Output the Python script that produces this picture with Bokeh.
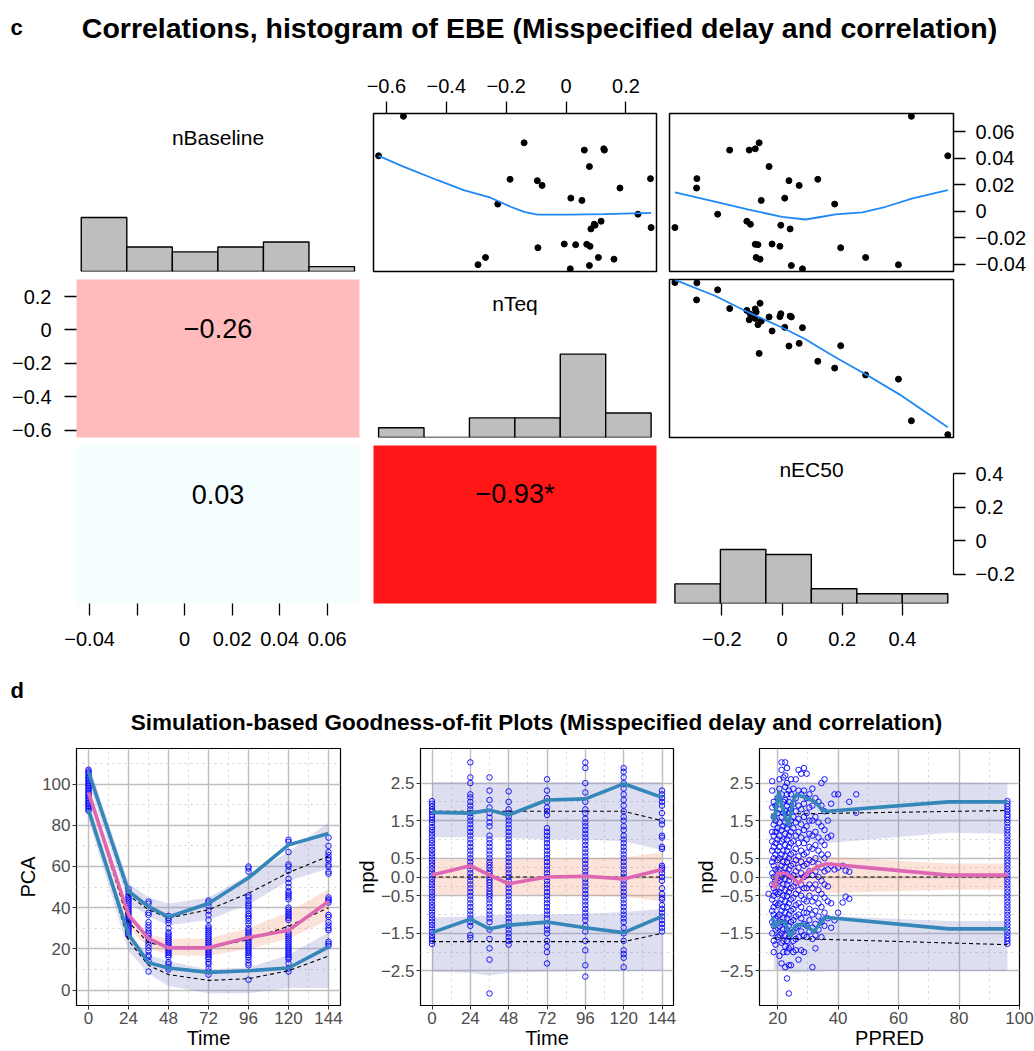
import numpy as np
from bokeh.plotting import figure
from bokeh.layouts import column, row
from bokeh.models import Range1d, FixedTicker, CustomJSTickFormatter, Label
from bokeh.embed import file_html
from bokeh.resources import INLINE

FONT = "Liberation Sans"

# ---------------- Section c: EBE of 32 subjects ----------------
nBaseline = [0.0715, 0.0417, 0.0515, 0.0460, 0.0470, 0.0460, 0.0336, 0.0240, 0.0230, 0.0194,
             0.0245, 0.0174, 0.0098, 0.0081, 0.0053, -0.0023, -0.0124, -0.0076, -0.0099, -0.0106,
             -0.0134, -0.0276, -0.0248, -0.0253, -0.0250, -0.0265, -0.0349, -0.0349, -0.0362, -0.0404,
             -0.0435, -0.0410]
nTeq = [-0.543, -0.626, -0.140, 0.061, 0.126, 0.128, 0.078, -0.187, -0.096, -0.080,
        0.282, 0.180, 0.016, 0.053, -0.228, 0.240, 0.284, 0.117, 0.094, 0.097,
        0.083, -0.094, -0.006, 0.032, 0.069, 0.080, -0.269, 0.108, 0.160, -0.294,
        0.014, 0.078]
nEC50 = [0.430, 0.551, -0.076, -0.109, -0.089, -0.174, -0.043, 0.119, 0.023, 0.057,
         -0.283, -0.284, 0.009, -0.069, 0.175, -0.214, -0.356, -0.117, -0.105, -0.004,
         0.027, 0.195, -0.033, -0.080, -0.089, -0.007, 0.278, -0.086, -0.073, 0.387,
         0.068, 0.031]

var_names = ["nBaseline", "nTeq", "nEC50"]
var_data = {"nBaseline": nBaseline, "nTeq": nTeq, "nEC50": nEC50}
var_range = {"nBaseline": (-0.0455, 0.0736), "nTeq": (-0.643, 0.302), "nEC50": (-0.374, 0.570)}

# correlation cells (row, col) -> label, fill
corr_cells = {(1, 0): ("\u22120.26", "#FFBBBB"),
              (2, 0): ("0.03", "#F4FEFE"),
              (2, 1): ("\u22120.93*", "#FF1616")}

# loess smoothers
smooth = {
    (0, 1): ([-0.626, -0.543, -0.431, -0.342, -0.252, -0.185, -0.140, -0.096, 0.016, 0.128, 0.284],
             [0.0417, 0.0336, 0.0235, 0.0159, 0.0101, 0.0033, -0.0005, -0.0026, -0.0026, -0.0023, -0.0013]),
    (0, 2): ([-0.356, -0.223, -0.111, 0.000, 0.078, 0.123, 0.178, 0.267, 0.345, 0.434, 0.551],
             [0.0141, 0.0071, 0.0012, -0.0043, -0.0063, -0.0046, -0.0025, -0.0010, 0.0033, 0.0096, 0.0159]),
    (1, 2): ([-0.356, -0.223, -0.111, 0.000, 0.078, 0.123, 0.189, 0.278, 0.390, 0.551],
             [0.300, 0.205, 0.105, 0.015, -0.055, -0.105, -0.175, -0.265, -0.385, -0.581]),
}

tick_vals = {"nBaseline": [-0.04, -0.02, 0.0, 0.02, 0.04, 0.06],
             "nTeq": [-0.6, -0.4, -0.2, 0.0, 0.2],
             "nEC50": [-0.2, 0.0, 0.2, 0.4]}

# ---------------- Section d: VPC data ----------------
times = [0, 24, 36, 48, 72, 96, 120, 144]
pca_obs = {
    0: [107, 106.2, 105.5, 104.6, 103.8, 103, 102.2, 101.4, 100.6, 99.8, 99, 98.2, 97.4, 96.6, 95.8, 95,
        94.2, 93.4, 92.6, 91.8, 91, 90.2, 89.4, 88.6, 87.8, 87],
    24: [49, 47.5, 46, 45, 44, 43, 42, 41, 40, 39, 38, 37, 36, 35, 34, 33, 32, 31, 30, 29, 28, 27, 26.5],
    36: [43, 42, 37.5, 36.5, 33, 31.5, 30, 28.5, 27.5, 26.5, 25, 23.5, 22, 20.5, 19, 17, 16, 14, 9],
    48: [36, 35, 34, 32.5, 30, 28, 27, 26, 25, 24, 23, 22, 21, 20, 19, 18, 17, 16, 13.5, 12.5, 11, 10],
    72: [43.5, 42.5, 41, 38.5, 36.5, 34, 31, 30, 29, 28, 27, 26, 25, 24, 23, 22, 21, 20, 19, 18, 17, 16, 15,
         13.5, 12.5, 10.5, 9, 7.5],
    96: [60, 59, 57.5, 46, 45, 43.5, 42, 41, 40, 38.5, 37, 36, 35, 33.5, 32, 30, 29, 28, 27, 26, 25, 24, 23,
         22, 21, 20, 19, 18, 17, 16, 14.5, 13, 12, 5],
    120: [73, 72, 67, 61, 60, 58, 54, 52, 50, 48, 47, 46, 45, 44, 40, 39, 38, 37, 36, 35, 34, 30, 28, 27, 26,
          25, 24, 23, 22, 21, 20, 19, 18, 17, 16, 15, 13, 10.5, 9],
    144: [74, 70, 67, 65.5, 64, 63, 61, 60, 57.5, 56.5, 45, 44, 43.5, 42.5, 36.5, 35.5, 33, 31.5, 30, 29,
          23.5, 22.5, 21.5],
}
pca_obs_hi = [106, 48, 40.5, 35.5, 42, 54.5, 70.5, 76]
pca_obs_med = [96, 36.5, 25, 20.5, 20.5, 25.5, 29, 43]
pca_obs_lo = [87.5, 27, 13.3, 10.7, 8.6, 9.4, 10.7, 21]
pca_pred_hi = [105, 46, 39, 35, 39, 47, 57, 65]
pca_pred_med = [96, 33, 23, 21, 20.5, 24.5, 31, 40]
pca_pred_lo = [88, 24, 12, 7.5, 4.7, 5.5, 9.4, 16.5]
pca_pi_hi = ([101, 42, 36, 31.5, 34, 41.5, 53, 59], [110, 52, 45, 42, 45, 56, 67, 81.5])
pca_pi_med = ([92, 30, 20.5, 17, 16.5, 20, 25, 34], [100, 38, 27, 25, 25, 30, 38, 49])
pca_pi_lo = ([83, 19, 8, 2, -1.5, -1.5, 1, 1], [92, 28, 17, 14, 10, 11, 17, 28])

npd_obs = {
    0: [2.02, 1.95, 1.88, 1.8, 1.74, 1.66, 1.6, 1.52, 1.44, 1.33, 1.25, 1.16, 1.08, 0.98, 0.9, 0.81, 0.72,
        0.63, 0.55, 0.46, 0.38, 0.3, 0.21, 0.12, 0.04, -0.05, -0.14, -0.22, -0.31, -0.4, -0.49, -0.57, -0.66,
        -0.75, -0.83, -0.92, -1.01, -1.1, -1.19, -1.28, -1.37, -1.46, -1.55, -1.63, -1.7, -1.78],
    24: [3.05, 2.65, 2.5, 2.2, 2.12, 2.0, 1.9, 1.8, 1.7, 1.6, 1.5, 1.4, 1.3, 1.2, 1.1, 1.0, 0.9, 0.8, 0.7,
         0.6, 0.5, 0.4, 0.3, 0.2, 0.1, 0.0, -0.1, -0.2, -0.3, -0.4, -0.5, -0.6, -0.7, -0.8, -0.9, -1.0, -1.1,
         -1.2, -1.3, -1.55, -1.62],
    36: [2.65, 2.3, 2.05, 1.85, 1.7, 1.58, 1.45, 1.35, 1.1, 1.0, 0.9, 0.8, 0.7, 0.6, 0.5, 0.4, 0.32, 0.24,
         0.15, 0.08, 0.0, -0.08, -0.15, -0.22, -0.3, -0.38, -0.45, -0.52, -0.6, -0.7, -0.8, -0.9, -1.0, -1.1,
         -1.2, -1.4, -1.65, -1.9, -2.2, -3.1],
    48: [2.28, 2.0, 1.8, 1.7, 1.6, 1.5, 1.4, 1.3, 1.2, 1.1, 1.0, 0.9, 0.8, 0.7, 0.6, 0.5, 0.4, 0.3, 0.2,
         0.1, 0.0, -0.1, -0.2, -0.3, -0.4, -0.5, -0.6, -0.7, -0.8, -0.9, -1.0, -1.1, -1.2, -1.3, -1.4, -1.5,
         -1.6, -1.7, -1.8],
    72: [2.6, 2.3, 2.1, 2.0, 1.85, 1.75, 1.65, 1.3, 1.2, 1.1, 1.0, 0.9, 0.8, 0.7, 0.6, 0.5, 0.4, 0.3, 0.2,
         0.1, 0.0, -0.1, -0.2, -0.3, -0.4, -0.5, -0.6, -0.7, -0.8, -0.9, -1.0, -1.1, -1.3, -1.4, -1.5, -1.7,
         -1.85, -2.0, -2.3],
    96: [3.05, 2.9, 2.5, 2.25, 2.0, 1.8, 1.7, 1.55, 1.45, 1.35, 1.25, 1.15, 1.05, 0.95, 0.85, 0.75, 0.65,
         0.55, 0.45, 0.35, 0.25, 0.15, 0.05, -0.05, -0.15, -0.25, -0.35, -0.45, -0.55, -0.65, -0.75, -0.85,
         -0.95, -1.05, -1.15, -1.3, -1.45, -1.7, -1.95, -2.35, -2.65],
    120: [2.9, 2.8, 2.65, 2.5, 2.35, 2.2, 2.05, 1.9, 1.75, 1.6, 1.5, 1.35, 1.25, 1.1, 1.0, 0.9, 0.8, 0.7,
          0.6, 0.5, 0.4, 0.3, 0.2, 0.1, 0.0, -0.1, -0.2, -0.3, -0.4, -0.5, -0.6, -0.7, -0.8, -0.9, -1.0,
          -1.1, -1.2, -1.35, -1.5, -1.7, -1.95, -2.05, -2.15, -2.4],
    144: [2.3, 2.2, 2.1, 2.0, 1.9, 1.7, 1.5, 1.4, 1.1, 1.05, 0.8, 0.75, 0.3, 0.25, 0.2, 0.1, 0.0, -0.1,
          -0.3, -0.45, -0.55, -0.6, -0.75, -0.85, -0.95, -1.05, -1.15, -1.25, -1.35, -1.45],
}
npd_obs_hi = [1.72, 1.70, 1.78, 1.65, 2.05, 2.08, 2.48, 2.12]
npd_obs_med = [0.05, 0.30, 0.05, -0.18, 0.0, 0.02, -0.05, 0.20]
npd_obs_lo = [-1.48, -1.12, -1.38, -1.28, -1.20, -1.35, -1.48, -1.05]
npd_pred_hi = [1.75, 1.75, 1.75, 1.75, 1.75, 1.75, 1.75, 1.5]
npd_pred_med = [0.0, 0.0, 0.0, 0.0, 0.0, 0.0, 0.0, 0.0]
npd_pred_lo = [-1.72, -1.72, -1.72, -1.72, -1.72, -1.72, -1.72, -1.5]
npd_pi_hi = ([1.06, 1.06, 1.05, 1.04, 1.0, 1.0, 0.95, 0.72], [2.53, 2.52, 2.52, 2.52, 2.52, 2.52, 2.52, 2.52])
npd_pi_med = ([-0.47, -0.47, -0.47, -0.47, -0.48, -0.5, -0.52, -0.65], [0.46, 0.47, 0.47, 0.47, 0.48, 0.5, 0.52, 0.66])
npd_pi_lo = ([-2.53, -2.55, -2.62, -2.55, -2.52, -2.5, -2.5, -2.5], [-1.08, -1.05, -1.02, -1.0, -1.0, -0.98, -0.93, -0.85])

# npd vs PPRED: observations grouped by population prediction
ppred_groups = [
    (17.0, [-0.45]),
    (18.2, [2.55, 2.3, 1.85, 1.2, 0.95, 0.7, 0.4, 0.1, -0.2, -0.6, -0.9, -1.2, -1.5]),
    (18.7, [2.0, 1.6, 1.4, 1.1, 0.8, 0.5, 0.3, 0.0, -0.3, -0.5, -0.8, -1.0, -1.3, -1.7, -2.0]),
    (19.3, [1.9, 1.5, 1.2, 0.9, 0.6, 0.2, -0.1, -0.4, -0.7, -1.1, -1.4, -1.8]),
    (20.0, [2.1, 1.7, 1.3, 1.0, 0.7, 0.45, 0.15, -0.15, -0.45, -0.75, -1.05, -1.35, -1.6]),
    (20.6, [2.6, 2.35, 1.8, 1.45, 1.1, 0.8, 0.5, 0.2, -0.1, -0.4, -0.7, -1.0, -1.3, -1.55, -2.1]),
    (21.3, [3.05, 2.85, 2.2, 1.6, 1.25, 0.95, 0.6, 0.3, 0.0, -0.3, -0.6, -0.9, -1.2, -1.5, -1.75, -2.3]),
    (21.9, [2.65, 2.0, 1.7, 1.35, 1.0, 0.7, 0.4, 0.1, -0.2, -0.5, -0.8, -1.1, -1.4, -1.7, -2.0]),
    (22.5, [3.05, 2.7, 2.4, 2.05, 1.75, 1.45, 1.15, 0.85, 0.55, 0.25, -0.05, -0.35, -0.65, -0.95, -1.25,
            -1.55, -1.85, -2.4]),
    (23.1, [2.9, 2.5, 2.2, 1.9, 1.6, 1.3, 1.0, 0.7, 0.4, 0.1, -0.2, -0.5, -0.8, -1.1, -1.4, -1.7, -2.0, -2.7]),
    (23.7, [2.3, 2.0, 1.7, 1.4, 1.1, 0.8, 0.5, 0.2, -0.1, -0.4, -0.7, -1.0, -1.3, -1.6, -1.9, -2.35, -3.1]),
    (24.4, [2.6, 2.2, 1.8, 1.5, 1.2, 0.9, 0.6, 0.3, 0.0, -0.3, -0.6, -0.9, -1.2, -1.5, -1.85, -2.35]),
    (25.2, [2.35, 1.95, 1.6, 1.3, 0.95, 0.65, 0.35, 0.05, -0.25, -0.55, -0.85, -1.15, -1.45, -1.7, -2.0]),
    (26.0, [2.6, 2.1, 1.75, 1.45, 1.1, 0.75, 0.45, 0.15, -0.15, -0.45, -0.75, -1.05, -1.35, -1.65, -1.95]),
    (26.9, [2.85, 2.3, 1.9, 1.55, 1.2, 0.9, 0.55, 0.25, -0.05, -0.35, -0.7, -1.0, -1.3, -1.6, -2.2]),
    (27.8, [2.75, 2.2, 1.8, 1.4, 1.05, 0.7, 0.4, 0.1, -0.2, -0.5, -0.8, -1.1, -1.45, -1.95]),
    (28.7, [2.9, 2.3, 1.95, 1.6, 1.25, 0.9, 0.6, 0.3, 0.0, -0.3, -0.6, -0.95, -1.25, -1.55, -2.0]),
    (29.6, [2.75, 2.1, 1.7, 1.35, 1.0, 0.65, 0.35, 0.05, -0.3, -0.65, -0.95, -1.3, -1.6]),
    (30.5, [2.2, 1.85, 1.5, 1.15, 0.8, 0.45, 0.15, -0.2, -0.5, -0.85, -1.15, -1.45]),
    (31.5, [2.35, 1.9, 1.5, 1.1, 0.75, 0.4, 0.05, -0.3, -0.65, -1.0, -1.35, -1.65, -2.4]),
    (32.5, [2.1, 1.6, 1.2, 0.85, 0.5, 0.15, -0.2, -0.55, -0.9, -1.25, -1.55, -1.9]),
    (33.5, [2.0, 1.45, 1.05, 0.7, 0.35, 0.0, -0.35, -0.7, -1.05, -1.4]),
    (34.5, [2.5, 1.9, 1.35, 0.95, 0.6, 0.25, -0.1, -0.45, -0.8, -1.2, -1.6]),
    (35.5, [2.6, 1.75, 1.25, 0.85, 0.5, 0.15, -0.2, -0.55, -0.95, -1.3]),
    (36.6, [1.5, 1.05, 0.6, 0.2, -0.25, -0.65, -1.1]),
    (37.7, [1.95, 1.1, 0.3, -0.7, -1.35]),
    (38.8, [2.2, 0.2, -1.15]),
    (40.0, [2.2, 0.25, -0.95]),
    (41.5, [0.3, -0.68]),
    (42.5, [0.17, -0.52]),
    (43.7, [2.0, 0.14, -0.58]),
    (46.0, [2.2, 1.71]),
    (96.0, npd_obs[0]),
]
pp_hi_x = [18.3, 18.8, 20.5, 21.2, 23.6, 25.0, 26.2, 29.7, 32.5, 34.7, 36.5, 76.5, 96.0]
pp_hi_y = [1.7, 1.5, 2.3, 1.95, 1.35, 2.0, 2.2, 2.1, 2.0, 1.78, 1.75, 2.0, 2.0]
pp_med_x = [18.3, 18.9, 20.0, 22.5, 24.5, 27.0, 29.8, 33.3, 36.0, 76.5, 96.0]
pp_med_y = [-0.15, -0.3, 0.1, 0.1, 0.0, -0.17, 0.1, 0.28, 0.35, 0.05, 0.05]
pp_lo_x = [18.3, 18.9, 20.2, 22.5, 24.2, 25.8, 28.6, 32.0, 35.6, 76.5, 96.0]
pp_lo_y = [-1.07, -1.35, -1.2, -1.2, -1.6, -1.3, -1.25, -1.45, -1.07, -1.38, -1.38]
pp_pred_hi = ([26.4, 96.0], [1.68, 1.77])
pp_pred_med = ([18.3, 96.0], [0.0, 0.0])
pp_pred_lo = ([18.5, 96.0], [-1.62, -1.80])
pp_band_x = [18.7, 25.0, 36.0, 76.5, 96.0]
pp_pi_hi = ([1.08, 1.0, 0.9, 1.18, 1.15], [2.52, 2.52, 2.52, 2.52, 2.5])
pp_pi_med = ([-0.40, -0.42, -0.43, -0.34, -0.34], [0.54, 0.55, 0.54, 0.36, 0.36])
pp_pi_lo = ([-2.45, -2.55, -2.5, -2.5, -2.5], [-0.98, -1.0, -1.04, -1.17, -1.17])

# ---------------- helpers ----------------
R_FMT = """
const v = Math.round(tick*10000)/10000;
if (Math.abs(v) < 1e-9) return "0";
return String(v).replace("-", "\\u2212");
"""
R_FMT_SKIP = """
const v = Math.round(tick*10000)/10000;
if (Math.abs(v + 0.02) < 1e-9) return "";
if (Math.abs(v) < 1e-9) return "0";
return String(v).replace("-", "\\u2212");
"""


def style_r_axis(ax, ticks, standoff, code=R_FMT):
    ax.ticker = FixedTicker(ticks=ticks, minor_ticks=[])
    ax.formatter = CustomJSTickFormatter(code=code)
    ax.major_tick_out = 12
    ax.major_tick_in = 0
    ax.minor_tick_out = 0
    ax.minor_tick_in = 0
    ax.major_tick_line_width = 1.3
    ax.major_tick_line_color = "black"
    ax.axis_line_color = None
    ax.major_label_text_font = FONT
    ax.major_label_text_font_size = "20px"
    ax.major_label_text_color = "black"
    ax.major_label_standoff = standoff


col_w = [366, 297, 371]
col_bl = [76, 7, 6]
col_br = [7, 7, 81]
row_h = [225, 166, 224]
row_bt = [63, 4, 4]
row_bb = [4, 4, 62]

HIST_TOP = 32.2


def pair_panel(i, j):
    xv, yv = var_names[j], var_names[i]
    xloc = None
    if i == 0 and j == 1:
        xloc = "above"
    elif i == 2 and j in (0, 2):
        xloc = "below"
    yloc = None
    if j == 2 and i in (0, 2):
        yloc = "right"
    elif i == 1 and j == 0:
        yloc = "left"
    p = figure(width=col_w[j], height=row_h[i],
               x_range=Range1d(*var_range[xv]), y_range=Range1d(*var_range[yv]),
               x_axis_location=xloc, y_axis_location=yloc,
               toolbar_location=None, output_backend="svg",
               min_border_left=col_bl[j], min_border_right=col_br[j],
               min_border_top=row_bt[i], min_border_bottom=row_bb[i])
    p.grid.visible = False
    p.outline_line_color = None
    p.background_fill_color = "white"
    p.border_fill_color = "white"

    if xloc == "above":
        style_r_axis(p.xaxis[0], tick_vals[xv], 9)
    elif xloc == "below":
        style_r_axis(p.xaxis[0], tick_vals[xv], 16, R_FMT_SKIP if xv == "nBaseline" else R_FMT)
    if yloc == "right":
        style_r_axis(p.yaxis[0], tick_vals[yv], 10)
        if i == 2 and j == 2:
            p.yaxis[0].axis_line_color = "black"
            p.yaxis[0].axis_line_width = 1.3
            p.yaxis[0].bounds = (-0.2, 0.4)
    elif yloc == "left":
        style_r_axis(p.yaxis[0], tick_vals[yv], 13)

    x0, x1 = var_range[xv]
    y0, y1 = var_range[yv]
    if i == j:
        p.extra_y_ranges = {"hist": Range1d(0, HIST_TOP)}
        counts, edges = np.histogram(var_data[xv], bins=6)
        p.quad(left=edges[:-1], right=edges[1:], bottom=0, top=counts, y_range_name="hist",
               fill_color="#BEBEBE", line_color="black", line_width=1.4)
        p.add_layout(Label(x=(x0 + x1) / 2, y=HIST_TOP * 0.845, y_range_name="hist", text=xv,
                           text_align="center", text_baseline="middle", text_font=FONT,
                           text_font_size="21px", text_color="black"))
    elif i < j:
        p.outline_line_color = "black"
        p.outline_line_width = 1.5
        p.scatter(var_data[xv], var_data[yv], size=6, color="black", marker="circle")
        sx, sy = smooth[(i, j)]
        p.line(sx, sy, line_color="#1E88F5", line_width=1.8)
    else:
        txt, fill = corr_cells[(i, j)]
        p.background_fill_color = fill
        p.add_layout(Label(x=(x0 + x1) / 2, y=y0 + 0.69 * (y1 - y0), text=txt,
                           text_align="center", text_baseline="middle", text_font=FONT,
                           text_font_size="27px", text_color="black"))
    return p


def title_fig(h, labels):
    p = figure(width=1034, height=h, x_range=Range1d(0, 1034), y_range=Range1d(h, 0),
               x_axis_location=None, y_axis_location=None, toolbar_location=None,
               output_backend="svg", min_border_left=0, min_border_right=0,
               min_border_top=0, min_border_bottom=0)
    p.grid.visible = False
    p.outline_line_color = None
    for (x, y, txt, size, align) in labels:
        p.add_layout(Label(x=x, y=y, text=txt, text_align=align, text_baseline="middle",
                           text_font=FONT, text_font_style="bold", text_font_size=size,
                           text_color="black"))
    return p


BLUE_LINE = "#3586B9"
PINK_LINE = "#DE67B4"
LAV = "#7B7FC4"
PEACH = "#EE8050"


def gg_panel(width, bl, br, xr, yr, xt, xm, yt, ym, xlab, ylab, yfmt):
    p = figure(width=width, height=316, x_range=Range1d(*xr), y_range=Range1d(*yr),
               toolbar_location=None, output_backend="svg",
               min_border_left=bl, min_border_right=br, min_border_top=13, min_border_bottom=40)
    p.outline_line_color = "black"
    p.outline_line_width = 1.2
    p.background_fill_color = "white"
    p.xaxis.ticker = FixedTicker(ticks=xt, minor_ticks=xm)
    p.yaxis.ticker = FixedTicker(ticks=yt, minor_ticks=ym)
    p.xaxis.formatter = CustomJSTickFormatter(code="return String(Math.round(tick));")
    p.yaxis.formatter = CustomJSTickFormatter(code=yfmt)
    for ax in (p.xaxis[0], p.yaxis[0]):
        ax.major_tick_out = 4
        ax.major_tick_in = 0
        ax.minor_tick_out = 0
        ax.minor_tick_in = 0
        ax.major_tick_line_color = "#333333"
        ax.major_tick_line_width = 1
        ax.axis_line_color = None
        ax.major_label_text_font = FONT
        ax.major_label_text_font_size = "17px"
        ax.major_label_text_color = "#4D4D4D"
        ax.major_label_standoff = 2
        ax.axis_label_text_font = FONT
        ax.axis_label_text_font_size = "20px"
        ax.axis_label_text_font_style = "normal"
        ax.axis_label_text_color = "black"
        ax.axis_label_standoff = 0
    p.xaxis.axis_label = xlab
    p.yaxis.axis_label = ylab
    p.grid.grid_line_color = "#BEBEBE"
    p.grid.grid_line_width = 1.4
    p.grid.minor_grid_line_color = "#D2D2D2"
    p.grid.minor_grid_line_dash = "dotted"
    p.grid.minor_grid_line_width = 1
    return p


def draw_vpc(p, bx, pis, obs_x, obs_y, preds, obs_lines):
    lo_band, med_band, hi_band = pis
    for band, col, a in ((hi_band, LAV, 0.26), (lo_band, LAV, 0.26), (med_band, PEACH, 0.22)):
        p.varea(x=bx, y1=band[0], y2=band[1], fill_color=col, fill_alpha=a)
    p.scatter(obs_x, obs_y, marker="circle", size=5.5, fill_color=None, line_color="#0000FF",
              line_width=0.9)
    for (xx, yy) in preds:
        p.line(xx, yy, line_color="black", line_width=1.1, line_dash="4 3")
    for (xx, yy), col in zip(obs_lines, (BLUE_LINE, PINK_LINE, BLUE_LINE)):
        p.line(xx, yy, line_color=col, line_width=3.6)


# ---------------- build section c ----------------
tc = title_fig(50, [(10, 27, "c", "22px", "left"),
                    (539, 27, "Correlations, histogram of EBE (Misspecified delay and correlation)",
                     "28.5px", "center")])
pair_rows = [row([pair_panel(i, j) for j in range(3)]) for i in range(3)]

# ---------------- build section d ----------------
td = title_fig(70, [(10, 25, "d", "22px", "left"),
                    (536, 57, "Simulation-based Goodness-of-fit Plots (Misspecified delay and correlation)",
                     "22.5px", "center")])

FMT1 = 'return tick.toFixed(1).replace("-", "\\u2212");'

g1 = gg_panel(346, 76, 6, (-7.2, 151.2), (-7.5, 117.3), [0, 24, 48, 72, 96, 120, 144],
              [12, 36, 60, 84, 108, 132], [0, 20, 40, 60, 80, 100], [10, 30, 50, 70, 90, 110],
              "Time", "PCA", "return String(Math.round(tick));")
ox = [t for t in times for _ in pca_obs[t]]
oy = [v for t in times for v in pca_obs[t]]
draw_vpc(g1, times, (pca_pi_lo, pca_pi_med, pca_pi_hi), ox, oy,
         [(times, pca_pred_hi), (times, pca_pred_med), (times, pca_pred_lo)],
         [(times, pca_obs_hi), (times, pca_obs_med), (times, pca_obs_lo)])

g2 = gg_panel(339, 74, 12, (-7.2, 151.2), (-3.42, 3.42), [0, 24, 48, 72, 96, 120, 144],
              [12, 36, 60, 84, 108, 132], [-2.5, -1.5, -0.5, 0.0, 0.5, 1.5, 2.5],
              [-2.0, -1.0, -0.25, 0.25, 1.0, 2.0], "Time", "npd", FMT1)
nx = [t for t in times for _ in npd_obs[t]]
ny = [v for t in times for v in npd_obs[t]]
draw_vpc(g2, times, (npd_pi_lo, npd_pi_med, npd_pi_hi), nx, ny,
         [(times, npd_pred_hi), (times, npd_pred_med), (times, npd_pred_lo)],
         [(times, npd_obs_hi), (times, npd_obs_med), (times, npd_obs_lo)])

g3 = gg_panel(349, 74, 15, (14.0, 100.0), (-3.42, 3.42), [20, 40, 60, 80, 100], [30, 50, 70, 90],
              [-2.5, -1.5, -0.5, 0.0, 0.5, 1.5, 2.5], [-2.0, -1.0, -0.25, 0.25, 1.0, 2.0],
              "PPRED", "npd", FMT1)
px = [x for x, ys in ppred_groups for _ in ys]
py = [v for x, ys in ppred_groups for v in ys]
draw_vpc(g3, pp_band_x, (pp_pi_lo, pp_pi_med, pp_pi_hi), px, py,
         [pp_pred_hi, pp_pred_med, pp_pred_lo],
         [(pp_hi_x, pp_hi_y), (pp_med_x, pp_med_y), (pp_lo_x, pp_lo_y)])

layout = column([tc] + pair_rows + [td, row([g1, g2, g3])])

with open("out.html", "w") as f:
    f.write(file_html(layout, INLINE, "EBE correlations and VPC"))
